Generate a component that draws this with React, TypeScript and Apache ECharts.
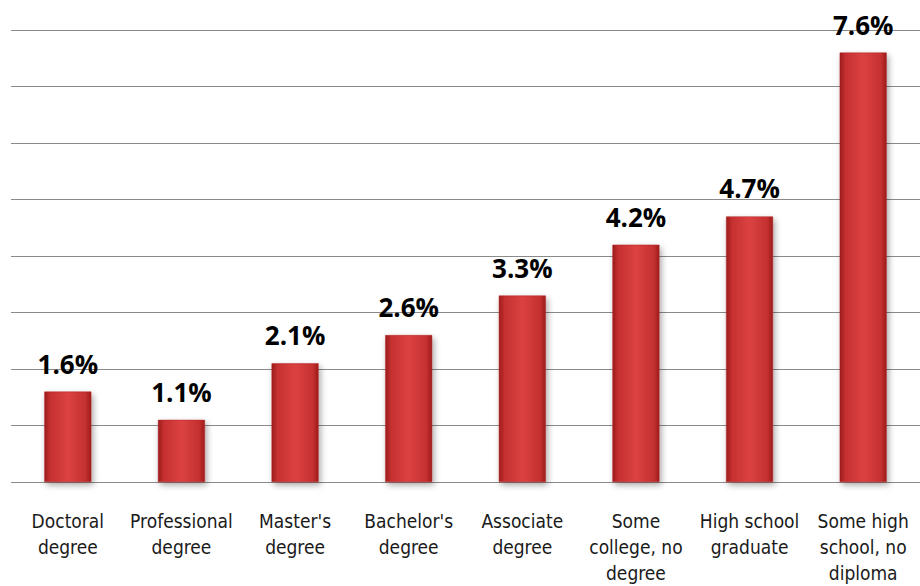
import React, { useEffect, useRef } from "react";
import * as echarts from "echarts";

const categories = [
  "Doctoral\ndegree",
  "Professional\ndegree",
  "Master's\ndegree",
  "Bachelor's\ndegree",
  "Associate\ndegree",
  "Some\ncollege, no\ndegree",
  "High school\ngraduate",
  "Some high\nschool, no\ndiploma",
];
const values = [1.6, 1.1, 2.1, 2.6, 3.3, 4.2, 4.7, 7.6];

export default function App() {
  const ref = useRef<HTMLDivElement>(null);
  useEffect(() => {
    const chart = echarts.init(ref.current!, null, { renderer: "svg" });
    const fill = new echarts.graphic.LinearGradient(0, 0, 1, 0, [
      { offset: 0, color: "#9c1c1c" },
      { offset: 0.12, color: "#c53030" },
      { offset: 0.5, color: "#dc4242" },
      { offset: 0.88, color: "#c53030" },
      { offset: 1, color: "#9c1c1c" },
    ]);
    chart.setOption({
      animation: false,
      grid: { left: 11, right: -11, top: 30, bottom: 103, containLabel: false },
      xAxis: {
        type: "category",
        data: categories,
        axisLine: { show: false },
        axisTick: { show: false },
        axisLabel: {
          interval: 0,
          margin: 26,
          fontFamily: "'DejaVu Sans Condensed', 'Liberation Sans Narrow', sans-serif",
          fontSize: 19,
          lineHeight: 26,
          color: "#1a1a1a",
        },
      },
      yAxis: {
        type: "value",
        min: 0,
        max: 8,
        interval: 1,
        axisLabel: { show: false },
        axisLine: { show: false },
        axisTick: { show: false },
        splitLine: { lineStyle: { color: "#8a8a8a", width: 1 } },
      },
      series: [
        {
          type: "bar",
          data: values,
          barWidth: 47,
          itemStyle: {
            color: fill,
            borderColor: "#b32525",
            borderWidth: 0.5,
            shadowColor: "rgba(0,0,0,0.35)",
            shadowBlur: 6,
            shadowOffsetX: 2,
            shadowOffsetY: 3,
          },
          label: {
            show: true,
            position: "top",
            distance: 15,
            formatter: (p: any) => p.value.toFixed(1) + "%",
            fontFamily: "'Open Sans', sans-serif",
            fontWeight: "bold",
            fontSize: 26,
            lineHeight: 26,
            color: "#000",
          },
        },
      ],
    });
    return () => chart.dispose();
  }, []);
  return (
    <div
      ref={ref}
      style={{ position: "fixed", left: 0, top: 0, width: 920, height: 586, background: "#fff" }}
    />
  );
}
